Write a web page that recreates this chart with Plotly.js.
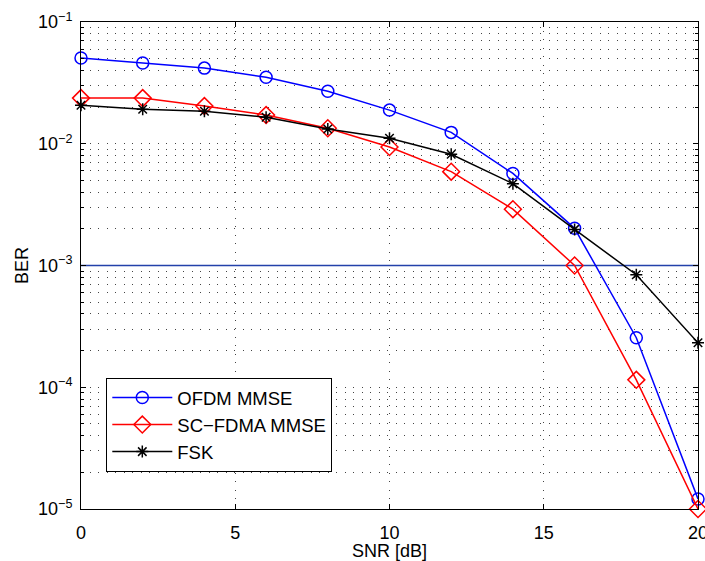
<!DOCTYPE html>
<html>
<head>
<meta charset="utf-8">
<script src="https://cdn.plot.ly/plotly-3.0.1.min.js"></script>
<style>body{margin:0;padding:0;background:#fff;}#chart{width:705px;height:561px;}</style>
</head>
<body>
<div id="chart"></div>
<script>
var snr = [0, 2, 4, 6, 8, 10, 12, 14, 16, 18, 20];
var ofdm = [0.0506, 0.046, 0.0418, 0.0352, 0.027, 0.0189, 0.0124, 0.0057, 0.00202, 0.000255, 0.0000121];
var scfdma = [0.0237, 0.0237, 0.0204, 0.0172, 0.0134, 0.0094, 0.0059, 0.0029, 0.001, 0.000115, 0.00001];
var fsk = [0.0207, 0.0192, 0.0185, 0.0165, 0.0132, 0.0111, 0.0082, 0.0047, 0.00198, 0.00084, 0.000232];
var thresholdX = [0, 20];
var thresholdY = [0.001, 0.001];
var yTickVals = [1e-5, 1e-4, 1e-3, 1e-2, 1e-1];
var yTickText = ['10<sup>−5</sup>', '10<sup>−4</sup>', '10<sup>−3</sup>', '10<sup>−2</sup>', '10<sup>−1</sup>'];
var xTickVals = [0, 5, 10, 15, 20];
var minorVals = [];
for (var e = -5; e < -1; e++) { for (var m = 2; m <= 9; m++) { minorVals.push(m * Math.pow(10, e)); } }

var gridDash = '1px,7.5px';
var gridColor = '#444';

var traces = [
  {x: thresholdX, y: thresholdY, mode: 'lines', line: {color: 'rgb(35,65,170)', width: 1.5}, showlegend: false, hoverinfo: 'skip'},
  {x: snr, y: ofdm, name: 'OFDM MMSE', mode: 'lines+markers', line: {color: '#0000ff', width: 1.5},
   marker: {symbol: 'circle-open', size: 12, color: '#0000ff', line: {width: 1.5}}, cliponaxis: false},
  {x: snr, y: scfdma, name: 'SC−FDMA MMSE', mode: 'lines+markers', line: {color: '#ff0000', width: 1.5},
   marker: {symbol: 'diamond-open', size: 13, color: '#ff0000', line: {width: 1.5}}, cliponaxis: false},
  {x: snr, y: fsk, name: 'FSK', mode: 'lines+markers', line: {color: '#000000', width: 1.5},
   marker: {symbol: 'asterisk-open', size: 10, color: '#000000', line: {width: 1.5}}, cliponaxis: false}
];

var layout = {
  width: 705, height: 561,
  margin: {l: 81, r: 7, t: 22, b: 52},
  paper_bgcolor: '#ffffff', plot_bgcolor: '#ffffff',
  font: {family: 'Liberation Sans, Arial, sans-serif', size: 18, color: '#000'},
  showlegend: true,
  legend: {x: 0.041, y: 0.269, xanchor: 'left', yanchor: 'top', bgcolor: '#fff', bordercolor: '#000', borderwidth: 1,
           font: {size: 18.5}, tracegroupgap: 0, itemwidth: 60},
  xaxis: {
    range: [0, 20], tickvals: xTickVals, ticktext: xTickVals.map(String),
    ticks: 'inside', ticklen: 5, tickcolor: '#000', showline: true, linecolor: '#000', linewidth: 1, mirror: 'ticks',
    showgrid: true, gridcolor: gridColor, griddash: gridDash, gridwidth: 1, zeroline: false,
    ticklabeloverflow: 'allow', ticklabelstandoff: 7,
    title: {text: 'SNR [dB]', font: {size: 18}, standoff: 2},
    tickfont: {size: 18}
  },
  yaxis: {
    type: 'log', range: [-5, -1], tickvals: yTickVals, ticktext: yTickText,
    ticks: 'inside', ticklen: 5, tickcolor: '#000', showline: true, linecolor: '#000', linewidth: 1, mirror: 'ticks',
    showgrid: true, gridcolor: gridColor, griddash: gridDash, gridwidth: 1, zeroline: false,
    ticklabeloverflow: 'allow', ticklabelstandoff: 4,
    minor: {tickvals: minorVals, ticks: 'inside', ticklen: 3, tickcolor: '#000', showgrid: true, gridcolor: gridColor, griddash: gridDash, gridwidth: 1},
    title: {text: 'BER', font: {size: 18}, standoff: 4},
    tickfont: {size: 18}
  }
};

Plotly.newPlot('chart', traces, layout, {displayModeBar: false, staticPlot: true});
</script>
</body>
</html>
